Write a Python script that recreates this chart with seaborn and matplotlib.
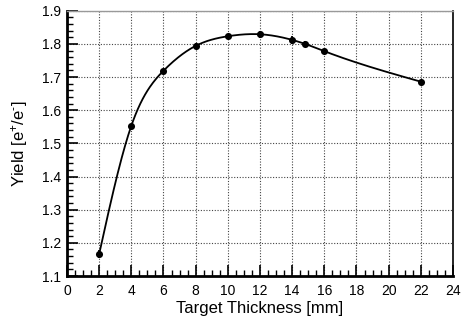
import numpy as np
import pandas as pd
import matplotlib
matplotlib.use("Agg")
import matplotlib.pyplot as plt
import seaborn as sns
from matplotlib.ticker import MultipleLocator

# Positron yield versus target thickness
thickness = [2, 4, 6, 8, 10, 12, 14, 14.8, 16, 22]
yield_vals = [1.166, 1.553, 1.719, 1.794, 1.823, 1.829, 1.812, 1.800, 1.778, 1.686]
yield_err = [0.013, 0.005, 0.005, 0.008, 0.005, 0.010, 0.012, 0.008, 0.008, 0.005]

x_ticks = [0, 2, 4, 6, 8, 10, 12, 14, 16, 18, 20, 22, 24]
y_ticks = [1.1, 1.2, 1.3, 1.4, 1.5, 1.6, 1.7, 1.8, 1.9]


def natural_spline(x, y, n=400):
    """Natural cubic spline through (x, y), evaluated on a fine grid."""
    x = np.asarray(x, float)
    y = np.asarray(y, float)
    k = len(x)
    h = np.diff(x)
    A = np.zeros((k, k))
    b = np.zeros(k)
    A[0, 0] = A[-1, -1] = 1.0
    for i in range(1, k - 1):
        A[i, i - 1] = h[i - 1]
        A[i, i] = 2 * (h[i - 1] + h[i])
        A[i, i + 1] = h[i]
        b[i] = 3 * ((y[i + 1] - y[i]) / h[i] - (y[i] - y[i - 1]) / h[i - 1])
    c = np.linalg.solve(A, b)
    xs = np.linspace(x[0], x[-1], n)
    idx = np.clip(np.searchsorted(x, xs) - 1, 0, k - 2)
    dx = xs - x[idx]
    bb = (y[idx + 1] - y[idx]) / h[idx] - h[idx] * (2 * c[idx] + c[idx + 1]) / 3
    dd = (c[idx + 1] - c[idx]) / (3 * h[idx])
    ys = y[idx] + bb * dx + c[idx] * dx ** 2 + dd * dx ** 3
    return xs, ys


sns.set_theme(style="white")
plt.rcParams["font.family"] = ["Liberation Sans", "DejaVu Sans"]
plt.rcParams["mathtext.fontset"] = "custom"
plt.rcParams["mathtext.rm"] = "Liberation Sans"
plt.rcParams["mathtext.it"] = "Liberation Sans:italic"
plt.rcParams["mathtext.bf"] = "Liberation Sans:bold"
for key in ("text.color", "axes.labelcolor", "xtick.color", "ytick.color"):
    plt.rcParams[key] = "black"

df = pd.DataFrame({"thickness": thickness, "yield": yield_vals, "err": yield_err})
xs, ys = natural_spline(thickness, yield_vals)
curve = pd.DataFrame({"thickness": xs, "yield": ys})

fig = plt.figure(figsize=(4.62, 3.2), dpi=100)
ax = fig.add_axes([0.145, 0.1375, 0.8355, 0.829])

sns.lineplot(data=curve, x="thickness", y="yield", color="black", linewidth=1.3,
             ax=ax, zorder=3)
ax.errorbar(df["thickness"], df["yield"], yerr=df["err"], fmt="none",
            ecolor="black", elinewidth=1.3, capsize=0, zorder=4)
sns.scatterplot(data=df, x="thickness", y="yield", color="black", s=26,
                edgecolor="black", linewidth=0, ax=ax, zorder=5)

ax.set_xlim(0, 24)
ax.set_ylim(1.1, 1.9)
ax.set_xticks(x_ticks)
ax.set_yticks(y_ticks)
ax.set_xticklabels([str(t) for t in x_ticks])
ax.set_yticklabels([f"{t:.1f}" for t in y_ticks])
ax.xaxis.set_minor_locator(MultipleLocator(0.5))
ax.yaxis.set_minor_locator(MultipleLocator(0.02))

ax.grid(True, which="major", color="#444444", linestyle=(0, (1, 1.5)), linewidth=0.8)
ax.set_axisbelow(True)

ax.tick_params(axis="both", which="major", direction="in", length=8, width=1.2,
               labelsize=10, colors="black", bottom=True, left=True,
               top=False, right=False)
ax.tick_params(axis="x", which="major", pad=6)
ax.tick_params(axis="y", which="major", pad=4)
ax.tick_params(axis="both", which="minor", direction="in", length=4.5, width=1.0,
               colors="black", bottom=True, left=True, top=False, right=False)

for side in ("left", "bottom"):
    ax.spines[side].set_linewidth(2.0)
    ax.spines[side].set_color("black")
ax.spines["right"].set_linewidth(1.2)
ax.spines["right"].set_color("black")
ax.spines["top"].set_linewidth(1.0)
ax.spines["top"].set_color("#999999")

ax.set_xlabel("Target Thickness [mm]", fontsize=12, labelpad=2, color="black")
ax.set_ylabel(r"Yield [e$^{+}$/e$^{\text{-}}$]", fontsize=12, labelpad=9,
              color="black")

fig.savefig("out.png", dpi=100)
